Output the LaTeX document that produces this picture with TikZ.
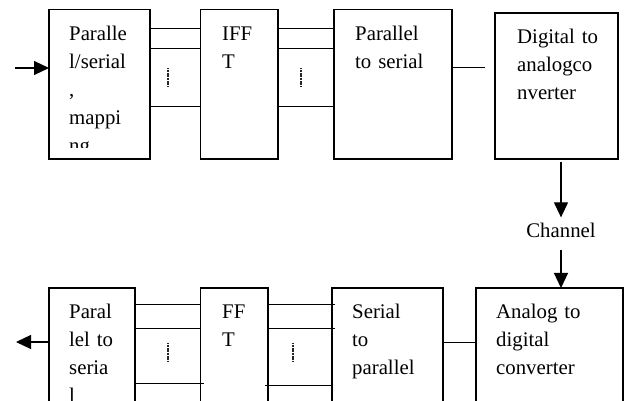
\documentclass[tikz,border=0pt]{standalone}
\usepackage{fontspec}
\setmainfont{Liberation Serif}
\usetikzlibrary{
  arrows.meta,
  calc,
  positioning
}
\tikzset{
%
  % For the connecting lines.
  wire/.style={
    line width=1pt},
%
  % For lines with a head.
  flow/.style={
    line width=1.2pt,
    -{Triangle[length=15pt,
               width=14pt]}},
%
  % For the blocks.
  block/.style={
    draw,
    line width=1.2pt,
    rectangle,
    outer sep=0pt,
    anchor=north west},
%
  % For the text in a block.
  block text/.style={
    anchor=base west,
    inner sep=0pt,
    text width=4cm,
    align=left,
    font=\fontsize{20.8}{28}\selectfont},
%
  % For the small dotted marks.
  dots/.style={
    line width=1.6pt,
    black!85,
    dash pattern=on 1.2pt off 0.4pt}
}

\begin{document}
\begin{tikzpicture}[x=1pt, y=-1pt]
  \useasboundingbox (0,0) rectangle (625,401);
  \clip (0,0) rectangle (625,401);

  % transmitter
  \node[block, minimum width=101pt, minimum height=149.5pt] (PS) at (49,9.5) {};
  \node[block, minimum width=77.3pt, minimum height=149.5pt] (IFFT) at (200.7,9.5) {};
  \node[block, minimum width=118pt, minimum height=149.5pt] (PtoS) at (334,9.5) {};
  \node[block, minimum width=123pt, minimum height=146pt] (DAC) at (495,13) {};

  \begin{scope}
    \clip (49,9.5) rectangle (150,148);
    \node[block text] (PStext) at (69,40.5) {Paralle\\l/serial\\,\\mappi\\ng};
  \end{scope}
  \node[block text] (IFFTtext) at (222,40.5) {IFF\\T};
  \node[block text] (PtoStext) at (355,40.5) {Parallel\\to serial};
  \node[block text] (DACtext) at (517,44) {Digital to\\analogco\\nverter};

  \coordinate (in) at (15,68);
  \coordinate (gap) at (485,68);
  \draw[flow] (in) -- (PS.west |- in);
  \foreach \y in {29,49,107} {
    \draw[wire] (PS.east |- 0,\y) -- (IFFT.west |- 0,\y);
    \draw[wire] (IFFT.east |- 0,\y) -- (PtoS.west |- 0,\y);
  }
  \draw[wire] (PtoS.east |- gap) -- (gap);
  \draw[dots] (168,68) -- (168,87);
  \draw[dots] (301,68) -- (301,87);

  % channel
  \node[inner sep=0pt, font=\fontsize{20.8}{28}\selectfont,
        anchor=base] (chan) at (561,238) {Channel};
  \draw[flow] (DAC.south -| chan) ++(0,3) -- ([yshift=6pt]chan.north);

  % receiver
  \node[block, minimum width=86pt, minimum height=140pt] (PtoSb) at (49,288) {};
  \node[block, minimum width=67.3pt, minimum height=140pt] (FFT) at (200.7,288) {};
  \node[block, minimum width=111pt, minimum height=140pt] (StoP) at (332,288) {};
  \node[block, minimum width=147pt, minimum height=140pt] (ADC) at (476,288) {};

  \node[block text] (PtoSbtext) at (69,319) {Paral\\lel to\\seria\\l};
  \node[block text] (FFTtext) at (222,319) {FF\\T};
  \node[block text] (StoPtext) at (352,319) {Serial\\to\\parallel};
  \node[block text] (ADCtext) at (496,319) {Analog to\\digital\\converter};

  \draw[flow] ([yshift=-12pt]chan.south) -- (ADC.north -| chan);

  \coordinate (out) at (16,342);
  \draw[flow] (PtoSb.west |- out) -- (out);
  \foreach \y in {305,329} {
    \draw[wire] (PtoSb.east |- 0,\y) -- (FFT.west |- 0,\y);
    \draw[wire] (FFT.east |- 0,\y) -- ([xshift=3pt]StoP.west |- 0,\y);
  }
  \draw[wire] (PtoSb.east |- 0,384) -- ([xshift=3pt]FFT.west |- 0,384);
  \draw[wire] ([xshift=-3pt]FFT.east |- 0,386) -- (StoP.west |- 0,386);
  \draw[wire] (StoP.east |- 0,343) -- (ADC.west |- 0,343);
  \draw[dots] (168,343) -- (168,362);
  \draw[dots] (293,343) -- (293,362);
\end{tikzpicture}
\end{document}
